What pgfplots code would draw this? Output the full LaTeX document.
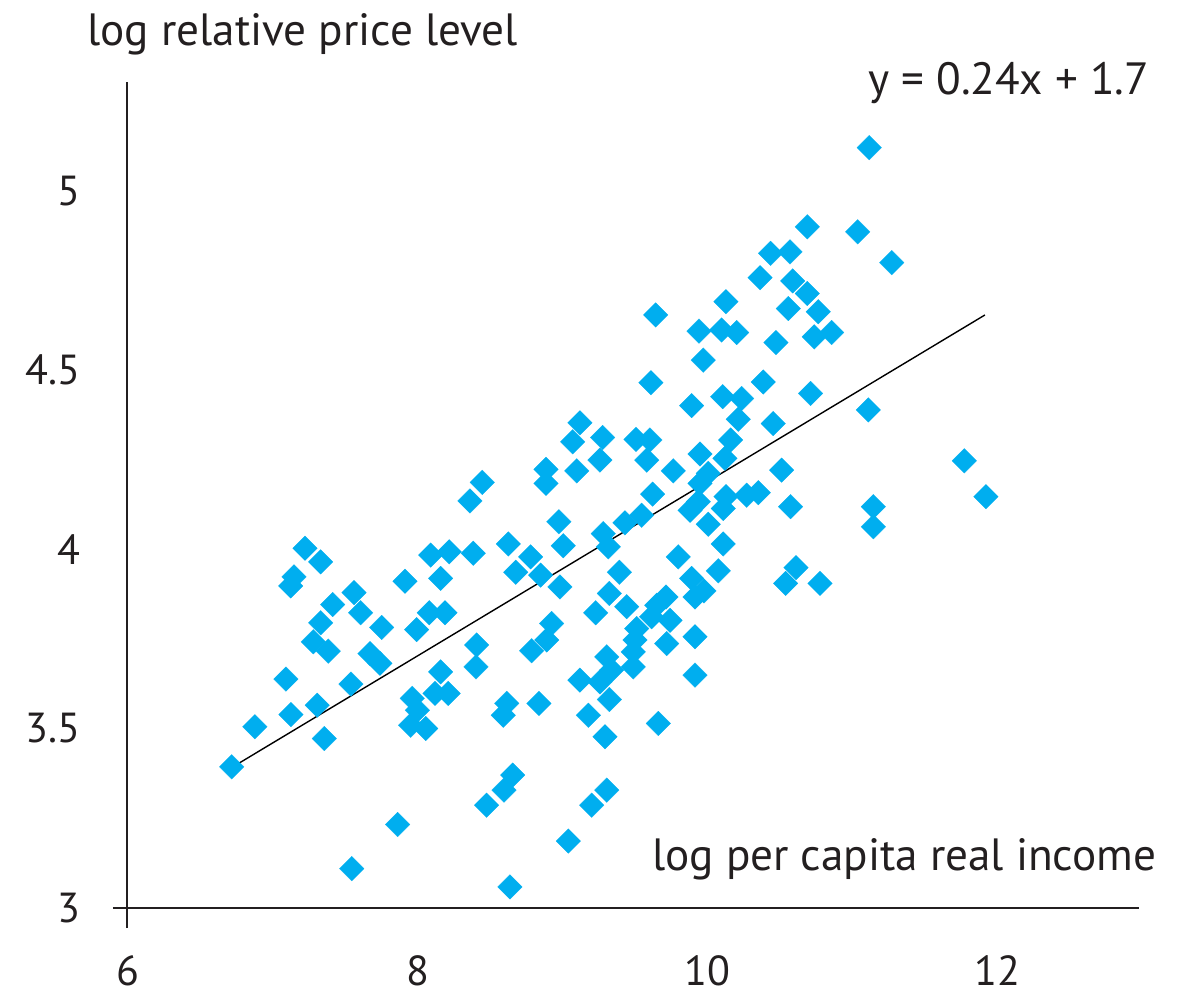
\documentclass[border=0pt]{standalone}
\usepackage{pgfplots}
\pgfplotsset{compat=1.18}
\usepackage{pgfplotstable}
\usepackage{fontspec}
\setmainfont{PT Sans}
\definecolor{dia}{RGB}{0,174,239}
\definecolor{ink}{RGB}{35,31,32}
\pgfplotstableread{
x y
6.716 3.393
6.876 3.505
7.090 3.638
7.125 3.539
7.123 3.898
7.146 3.923
7.222 4.003
7.330 3.965
7.306 3.565
7.355 3.472
7.279 3.742
7.330 3.795
7.382 3.716
7.413 3.846
7.539 3.624
7.544 3.109
7.560 3.879
7.606 3.823
7.670 3.709
7.739 3.682
7.751 3.782
7.861 3.232
7.912 3.911
7.951 3.509
7.962 3.584
7.992 3.776
7.997 3.551
8.055 3.500
8.079 3.823
8.089 3.984
8.119 3.598
8.158 3.919
8.158 3.658
8.188 3.823
8.210 3.598
8.217 3.993
8.360 4.135
8.383 3.989
8.406 3.733
8.402 3.672
8.445 4.187
8.475 3.286
8.590 3.537
8.595 3.328
8.614 3.570
8.625 4.015
8.636 3.058
8.655 3.370
8.676 3.936
8.779 3.979
8.786 3.717
8.836 3.570
8.848 3.928
8.885 4.223
8.885 4.184
8.890 3.747
8.924 3.793
8.974 4.077
8.981 3.895
9.004 4.010
9.039 3.186
9.069 4.300
9.097 4.219
9.119 4.353
9.119 3.635
9.177 3.537
9.200 3.286
9.228 3.823
9.257 4.249
9.257 3.630
9.276 4.312
9.280 4.044
9.292 3.477
9.304 3.700
9.304 3.328
9.315 4.007
9.322 3.877
9.322 3.581
9.338 3.663
9.391 3.936
9.430 4.074
9.442 3.840
9.487 3.714
9.487 3.672
9.499 3.747
9.506 4.307
9.511 3.779
9.545 4.095
9.580 4.249
9.602 4.305
9.609 4.465
9.614 3.812
9.621 4.154
9.642 4.654
9.649 3.844
9.660 3.514
9.713 3.867
9.718 3.737
9.741 3.802
9.763 4.219
9.798 3.979
9.879 4.109
9.890 4.401
9.890 3.919
9.913 3.867
9.913 3.756
9.913 3.649
9.936 4.133
9.941 4.609
9.948 4.266
9.948 4.184
9.970 4.528
9.975 3.884
10.005 4.212
10.005 4.070
10.074 3.940
10.097 4.612
10.104 4.426
10.108 4.015
10.108 4.114
10.120 4.254
10.127 4.691
10.127 4.147
10.159 4.305
10.201 4.605
10.212 4.363
10.235 4.421
10.270 4.151
10.350 4.158
10.362 4.758
10.384 4.467
10.435 4.826
10.453 4.351
10.472 4.577
10.511 4.221
10.539 3.905
10.557 4.672
10.569 4.830
10.573 4.119
10.587 4.749
10.610 3.949
10.688 4.900
10.688 4.714
10.711 4.435
10.736 4.593
10.764 4.663
10.776 3.905
10.856 4.605
11.036 4.886
11.109 4.389
11.116 5.121
11.144 4.119
11.144 4.063
11.271 4.800
11.772 4.247
11.921 4.147
}\pricedata
\begin{document}
\begin{tikzpicture}
\begin{axis}[
  scale only axis, width=513pt, height=423pt,
  xmin=5.896, xmax=12.977, ymin=2.943, ymax=5.304,
  axis line style={draw=none},
  clip=false,
  xtick={6,8,10,12}, ytick={3,3.5,4,4.5,5},
  yticklabels={3,3.5,4,4.5,5},
  major tick length=0pt, tick style={draw=none},
  /pgf/number format/assume math mode=true,
  xticklabel style={anchor=base, inner sep=0pt, yshift=-28.5pt, font=\fontsize{21}{25}\selectfont, text=ink},
  yticklabel style={anchor=east, inner sep=0pt, xshift=-16pt, font=\fontsize{21}{25}\selectfont, text=ink},
]
\addplot[only marks, color=dia, mark=square*, mark size=4.35pt, mark options={solid, rotate=45, fill=dia, draw=dia, line width=0.1pt}] table {\pricedata};
\addplot[black, line width=0.7pt] coordinates {(6.716,3.391) (11.914,4.654)};
\draw[ink, line width=1pt] (axis cs:5.993,2.943) -- (axis cs:5.993,5.304);
\draw[ink, line width=1pt] (axis cs:5.896,3) -- (axis cs:12.977,3);
\node[anchor=base west, inner sep=0pt, text=ink, font=\fontsize{22.6}{26}\selectfont] at (axis cs:5.717,5.407) {log relative price level};
\node[anchor=base west, inner sep=0pt, text=ink, font=\fontsize{22.6}{26}\selectfont] at (axis cs:11.107,5.268) {y = 0.24x + 1.7};
\node[anchor=base west, inner sep=0pt, text=ink, font=\fontsize{22.6}{26}\selectfont] at (axis cs:9.616,3.105) {log per capita real income};
\coordinate (bl) at (axis cs:5.117,2.764);
\coordinate (tr) at (axis cs:13.357,5.533);
\end{axis}
\pgfresetboundingbox
\path (bl) rectangle (tr);
\end{tikzpicture}
\end{document}
